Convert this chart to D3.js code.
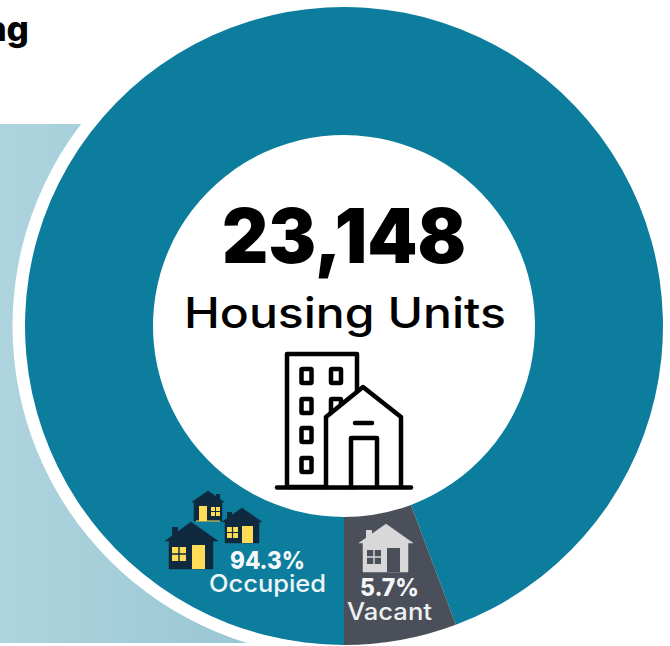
<!DOCTYPE html>
<html>
<head>
<meta charset="utf-8">
<script src="https://cdn.jsdelivr.net/npm/d3@7"></script>
<style>html,body{margin:0;padding:0;background:#fff}svg{display:block}text{font-family:Inter,"Open Sans",sans-serif}</style>
</head>
<body>
<svg id="c" width="670" height="646"></svg>
<script>
const categories = ["Occupied", "Vacant"];
const shares = [94.3, 5.7];
const shareLabels = ["94.3%", "5.7%"];
const sliceColors = ["#0c7d9c", "#4a4f59"];
const totalLabel = "23,148";
const totalCaption = "Housing Units";
const clippedTitle = "ng";

const svg = d3.select("#c");
const cx = 344, cy = 326, outerR = 319, innerR = 191;

// background panel
const defs = svg.append("defs");
const g = defs.append("linearGradient").attr("id", "panel");
g.append("stop").attr("offset", 0).attr("stop-color", "#aed4de");
g.append("stop").attr("offset", 1).attr("stop-color", "#99c7d4");
svg.append("rect").attr("x", 0).attr("y", 124).attr("width", 250).attr("height", 519).attr("fill", "url(#panel)");
svg.append("circle").attr("cx", cx).attr("cy", cy).attr("r", 331.5).attr("fill", "#fff");

// title fragment
svg.append("text").attr("x", 29).attr("y", 41).attr("text-anchor", "end")
  .attr("font-size", 35).attr("font-weight", 800).attr("fill", "#050505").text(clippedTitle);

// donut
const pie = d3.pie().sort(null).startAngle(Math.PI).endAngle(3 * Math.PI);
const arc = d3.arc().innerRadius(innerR).outerRadius(outerR);
const colorScale = d3.scaleOrdinal().domain(categories).range(sliceColors);
svg.append("g").attr("transform", `translate(${cx},${cy})`)
  .selectAll("path").data(pie(shares)).join("path")
  .attr("d", arc).attr("fill", (d, i) => colorScale(categories[i]));

// centre labels
function fitText(x, y, len, size, weight, fill, str) {
  svg.append("text").attr("x", x).attr("y", y).attr("font-size", size).attr("font-weight", weight)
    .attr("fill", fill).attr("textLength", len).attr("lengthAdjust", "spacingAndGlyphs").text(str);
}
fitText(222, 263, 244, 75, 900, "#000", totalLabel);
fitText(184, 328, 322, 42, 500, "#000", totalCaption);
fitText(230, 569, 75, 24, 800, "#f4f8fa", shareLabels[0]);
fitText(209, 592, 117, 24, 500, "#eef5f8", categories[0]);
fitText(360, 596, 59, 24, 800, "#f4f6f7", shareLabels[1]);
fitText(347, 620, 85, 24, 500, "#eef0f1", categories[1]);

// building icon
const ic = svg.append("g").attr("fill", "none").attr("stroke", "#000").attr("stroke-width", 4.5)
  .attr("stroke-linejoin", "round").attr("stroke-linecap", "round");
ic.append("rect").attr("x", 287).attr("y", 354).attr("width", 70).attr("height", 133).attr("fill", "#fff");
[306.5, 336].forEach(x => [376, 406, 435, 465].forEach(y => {
  ic.append("rect").attr("x", x - 5).attr("y", y - 7).attr("width", 10).attr("height", 14).attr("rx", 1);
}));
ic.append("path").attr("fill", "#fff").attr("d", "M326,487V417L363,387L401,417V487");
ic.append("path").attr("d", "M351,487V438H377V487");
ic.append("path").attr("d", "M355,423H372");
ic.append("path").attr("d", "M277,487.5H411");

// small houses
function house(o) {
  const h = svg.append("g");
  h.append("rect").attr("x", o.chim[0]).attr("y", o.chim[1]).attr("width", o.chim[2]).attr("height", o.eave - o.chim[1]).attr("fill", o.body);
  h.append("path").attr("fill", o.body).attr("stroke", o.body).attr("stroke-width", 0.5).attr("stroke-linejoin", "round")
    .attr("d", `M${o.l},${o.eave}L${o.apex[0]},${o.apex[1]}L${o.r},${o.eave}H${o.br}V${o.bot}H${o.bl}V${o.eave}Z`);
  h.append("rect").attr("x", o.door[0]).attr("y", o.door[1]).attr("width", o.door[2]).attr("height", o.bot - o.door[1]).attr("fill", o.doorFill);
  const [wx, wy, ww, wh] = o.win;
  h.append("rect").attr("x", wx).attr("y", wy).attr("width", ww).attr("height", wh).attr("fill", o.winFill);
  h.append("path").attr("stroke", o.barFill).attr("stroke-width", o.bar).attr("d", `M${wx + ww / 2},${wy}V${wy + wh}M${wx},${wy + wh / 2}H${wx + ww}`);
}
const navy = "#0f2a3f", yellow = "#ffdc55", grey = "#d8d8d8", slate = "#4a4f59";
house({ body: navy, l: 192, r: 224, eave: 502, apex: [208, 491], bl: 194, br: 222, bot: 521, chim: [216, 494, 4], door: [199, 506, 8], doorFill: yellow, win: [211, 507, 9, 9], winFill: yellow, barFill: navy, bar: 1 });
svg.append("rect").attr("x", 196).attr("y", 520.5).attr("width", 24).attr("height", 1).attr("fill", yellow);
house({ body: navy, l: 222, r: 262, eave: 522, apex: [242, 508], bl: 225, br: 259, bot: 543, chim: [227, 512, 5], door: [242, 526, 11], doorFill: yellow, win: [227, 527, 11, 11], winFill: yellow, barFill: navy, bar: 1.2 });
house({ body: navy, l: 165, r: 218, eave: 541, apex: [191, 522], bl: 169, br: 213, bot: 569, chim: [172, 527, 6], door: [192, 545, 13], doorFill: yellow, win: [172, 547, 14, 14], winFill: yellow, barFill: navy, bar: 1.4 });
house({ body: grey, l: 359, r: 413, eave: 543, apex: [386, 524], bl: 363, br: 408, bot: 572, chim: [366, 530, 6], door: [387, 548, 13], doorFill: slate, win: [367, 550, 14, 14], winFill: slate, barFill: grey, bar: 1.4 });
</script>
</body>
</html>
